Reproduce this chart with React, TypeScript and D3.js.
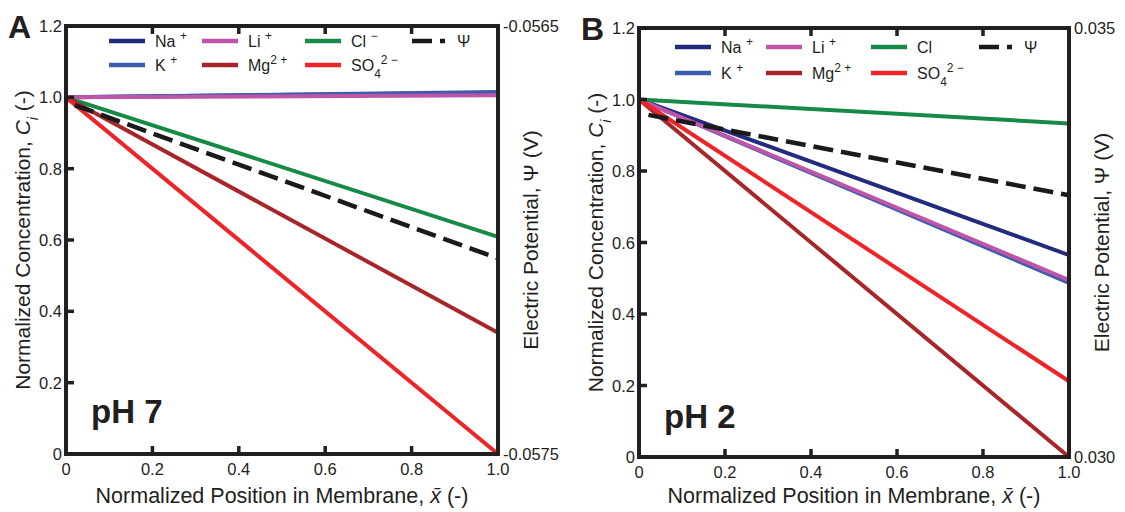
import React from 'react'
import * as d3 from 'd3'

// shared axis values
const xNodes = [0, 1]
const xTicks = [0, 0.2, 0.4, 0.6, 0.8, 1.0]
const xTickLabels = ['0', '0.2', '0.4', '0.6', '0.8', '1.0']
const yTicks = [0, 0.2, 0.4, 0.6, 0.8, 1.0, 1.2]
const yTickLabels = ['0', '0.2', '0.4', '0.6', '0.8', '1.0', '1.2']

// panel A, pH 7
const naA = [1.0, 1.013]
const kA = [1.0, 1.015]
const liA = [1.0, 1.006]
const clA = [1.0, 0.609]
const mgA = [1.0, 0.34]
const so4A = [1.0, 0.0]
const psiXA = [0.02, 1]
const psiA = [-0.056685, -0.057043]
const psiDomainA = [-0.0575, -0.0565]
const psiLabelsA = ['-0.0575', '-0.0565']

// panel B, pH 2
const naB = [1.0, 0.565]
const kB = [1.0, 0.487]
const liB = [1.0, 0.495]
const clB = [1.0, 0.933]
const mgB = [1.0, 0.0]
const so4B = [1.0, 0.212]
const psiXB = [0.022, 1]
const psiB = [0.033987, 0.03305]
const psiDomainB = [0.03, 0.035]
const psiLabelsB = ['0.030', '0.035']

const colors = {
  na: '#232b7c',
  k: '#3d5cab',
  li: '#bd55a8',
  cl: '#178a47',
  mg: '#a8252a',
  so4: '#ee2429',
  psi: '#1a1a1a',
}

const FONT = 'Liberation Sans, Arial, sans-serif'
const INK = '#231f20'
const DASH = '20,8'
const TITLE_BASE = 503

const Sup = ({ t }) => (
  <tspan baselineShift="super" fontSize={12}>{t}</tspan>
)

const Legend = ({ left, rowY, cols, clMinus }) => {
  const [c1, c2, c3, c4] = cols
  const len = 36
  const item = (x, y, color, label) => (
    <g>
      <line x1={left + x} x2={left + x + len} y1={y} y2={y} stroke={color} strokeWidth={4.5} />
      <text x={left + x + len + 10} y={y + 5.5} fontSize={16} fill={INK}>{label}</text>
    </g>
  )
  return (
    <g fontFamily={FONT}>
      {item(c1, rowY[0], colors.na, <>Na <Sup t="+" /></>)}
      {item(c1, rowY[1], colors.k, <>K <Sup t="+" /></>)}
      {item(c2, rowY[0], colors.li, <>Li <Sup t="+" /></>)}
      {item(c2, rowY[1], colors.mg, <>Mg<Sup t="2 +" /></>)}
      {item(c3, rowY[0], colors.cl, clMinus ? <>Cl <Sup t="−" /></> : <>Cl</>)}
      {item(c3, rowY[1], colors.so4, <>SO<tspan baselineShift="sub" fontSize={12}>4</tspan><Sup t="2 −" /></>)}
      <line x1={left + c4} x2={left + c4 + 33} y1={rowY[0]} y2={rowY[0]}
        stroke={colors.psi} strokeWidth={4.5} strokeDasharray={DASH} />
      <text x={left + c4 + 45} y={rowY[0] + 5.5} fontSize={16} fill={INK}>Ψ</text>
    </g>
  )
}

const Panel = ({ box, ions, psiX, psi, psiDomain, psiLabels, letter, ph, phY, legendRows, legendCols, clMinus, letterY }) => {
  const { left, right, top, bottom } = box
  const x = d3.scaleLinear().domain([0, 1]).range([left, right])
  const y = d3.scaleLinear().domain([0, 1.2]).range([bottom, top])
  const yPsi = d3.scaleLinear().domain(psiDomain).range([bottom, top])
  const line = d3.line<number>().x((_, i) => x(xNodes[i])).y((d) => y(d))
  const psiLine = d3.line<number>().x((_, i) => x(psiX[i])).y((d) => yPsi(d))
  const midY = (top + bottom) / 2

  return (
    <g fontFamily={FONT} fill={INK}>
      {ions.map(([key, vals]) => (
        <path key={key} d={line(vals)} fill="none" stroke={colors[key]} strokeWidth={4} />
      ))}
      <path d={psiLine(psi)} fill="none" stroke={colors.psi} strokeWidth={4.5} strokeDasharray={DASH} />

      {/* frame and inward ticks */}
      <rect x={left} y={top} width={right - left} height={bottom - top} fill="none" stroke={INK} strokeWidth={4} />
      {xTicks.slice(1, -1).map((t) => (
        <g key={'xt' + t} stroke={INK} strokeWidth={3.5}>
          <line x1={x(t)} x2={x(t)} y1={bottom} y2={bottom - 8} />
          <line x1={x(t)} x2={x(t)} y1={top} y2={top + 8} />
        </g>
      ))}
      {yTicks.slice(1, -1).map((t) => (
        <line key={'yt' + t} x1={left} x2={left + 8} y1={y(t)} y2={y(t)} stroke={INK} strokeWidth={3.5} />
      ))}

      {/* tick labels */}
      {xTicks.map((t, i) => (
        <text key={'xl' + t} x={x(t)} y={bottom + 21} fontSize={16.5} textAnchor="middle">{xTickLabels[i]}</text>
      ))}
      {yTicks.map((t, i) => (
        <text key={'yl' + t} x={left - 4} y={y(t) + 6} fontSize={16.5} textAnchor="end">{yTickLabels[i]}</text>
      ))}
      {psiDomain.map((v, i) => (
        <text key={'pl' + i} x={right + 5} y={yPsi(v) + 6} fontSize={16.5}>{psiLabels[i]}</text>
      ))}

      {/* axis titles */}
      <text x={(left + right) / 2} y={TITLE_BASE} fontSize={21.5} textAnchor="middle">
        Normalized Position in Membrane, <tspan fontStyle="italic">x̄</tspan> (-)
      </text>
      <text transform={`translate(${left - 36},${midY}) rotate(-90)`} fontSize={21} textAnchor="middle">
        Normalized Concentration, <tspan fontStyle="italic">C</tspan>
        <tspan fontStyle="italic" baselineShift="sub" fontSize={14}>i</tspan> (-)
      </text>
      <text transform={`translate(${right + 40},${midY}) rotate(-90)`} fontSize={21} textAnchor="middle">
        Electric Potential, Ψ (V)
      </text>

      <text x={left - 58} y={letterY} fontSize={32} fontWeight="bold">{letter}</text>
      <text x={left + 25} y={phY} fontSize={33} fontWeight="bold">{ph}</text>

      <Legend left={left} rowY={legendRows} cols={legendCols} clMinus={clMinus} />
    </g>
  )
}

export default function App() {
  return (
    <svg width={1125} height={512} style={{ position: 'absolute', left: 0, top: 0, background: '#fff' }}>
      <Panel
        box={{ left: 66, right: 498, top: 26, bottom: 454 }}
        ions={[['na', naA], ['k', kA], ['li', liA], ['cl', clA], ['mg', mgA], ['so4', so4A]]}
        psiX={psiXA} psi={psiA} psiDomain={psiDomainA} psiLabels={psiLabelsA}
        letter="A" letterY={38} ph="pH 7" phY={423}
        legendRows={[41, 65]} legendCols={[43, 136, 239, 346]} clMinus={true}
      />
      <Panel
        box={{ left: 639, right: 1069, top: 28, bottom: 457 }}
        ions={[['na', naB], ['k', kB], ['li', liB], ['cl', clB], ['mg', mgB], ['so4', so4B]]}
        psiX={psiXB} psi={psiB} psiDomain={psiDomainB} psiLabels={psiLabelsB}
        letter="B" letterY={40} ph="pH 2" phY={428}
        legendRows={[47, 73]} legendCols={[36, 127, 232, 340]} clMinus={false}
      />
    </svg>
  )
}
